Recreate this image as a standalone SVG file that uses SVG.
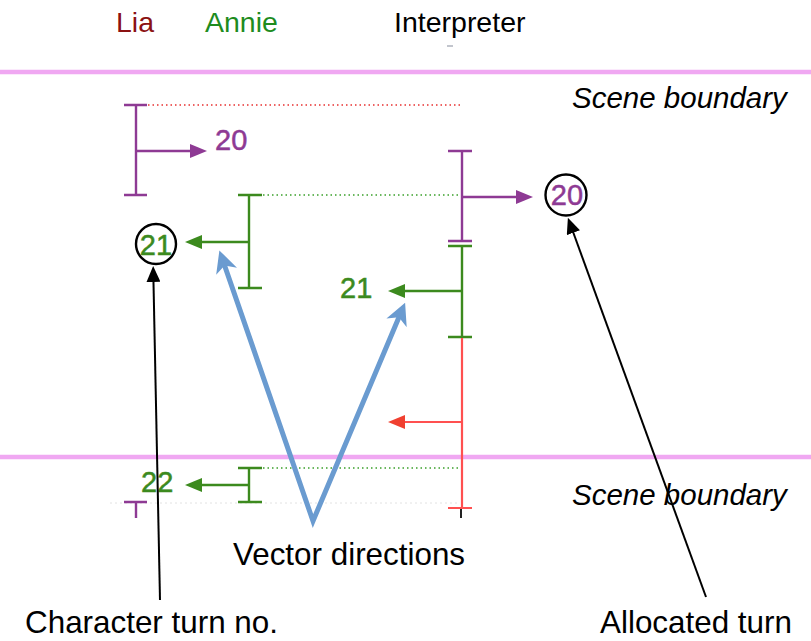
<svg xmlns="http://www.w3.org/2000/svg" width="811" height="641" viewBox="0 0 811 641">
  <style>
    text { font-family: "Liberation Sans", Arial, sans-serif; }
    .hdr { font-size: 28.5px; }
    .scene { font-size: 29.5px; font-style: italic; fill: #000; }
    .label { font-size: 31.4px; fill: #000; }
    .num { font-size: 29px; stroke-width: 0.5; }
    .purple { stroke: #8e3a94; stroke-width: 2.4; fill: none; }
    .green { stroke: #3c8a1e; stroke-width: 2.4; fill: none; }
    .red { stroke: #ff5050; stroke-width: 2.2; fill: none; }
    .boundary { stroke: #f0a8f2; stroke-width: 4.5; }
    .dotRed { stroke: #e83030; stroke-width: 1.5; stroke-dasharray: 1.5 3; }
    .dotGreen { stroke: #3aa02a; stroke-width: 1.5; stroke-dasharray: 1.5 3; }
    .vec { stroke: #6a9bd0; stroke-width: 5; fill: none; stroke-linejoin: miter; }
    .callout { stroke: #000; stroke-width: 2; fill: none; }
    .ring { stroke: #000; stroke-width: 2.4; fill: none; }
  </style>
  <defs>
    <marker id="headPurple" viewBox="0 0 17 14" markerUnits="userSpaceOnUse" markerWidth="17" markerHeight="14" refX="4" refY="7" orient="auto">
      <path d="M0,0 L17,7 L0,14 z" fill="#8e3a94"/>
    </marker>
    <marker id="headGreen" viewBox="0 0 17 14" markerUnits="userSpaceOnUse" markerWidth="17" markerHeight="14" refX="4" refY="7" orient="auto">
      <path d="M0,0 L17,7 L0,14 z" fill="#3c8a1e"/>
    </marker>
    <marker id="headRed" viewBox="0 0 17 14" markerUnits="userSpaceOnUse" markerWidth="17" markerHeight="14" refX="4" refY="7" orient="auto">
      <path d="M0,0 L17,7 L0,14 z" fill="#f04030"/>
    </marker>
    <marker id="headBlack" viewBox="0 0 16 14" markerUnits="userSpaceOnUse" markerWidth="16" markerHeight="14" refX="4" refY="7" orient="auto">
      <path d="M0,0 L16,7 L0,14 z" fill="#000"/>
    </marker>
    <marker id="headBlue" viewBox="0 0 22 22" markerUnits="userSpaceOnUse" markerWidth="22" markerHeight="22" refX="14" refY="11" orient="auto-start-reverse">
      <path d="M0,0 L22,11 L0,22 L6,11 z" fill="#6a9bd0"/>
    </marker>
  </defs>

  <!-- column headings -->
  <g id="headings">
    <text class="hdr" x="116" y="32" fill="#8b1212">Lia</text>
    <text class="hdr" x="205" y="32" fill="#1e8c1e">Annie</text>
    <text class="hdr" x="394" y="32" fill="#000">Interpreter</text>
    <line x1="447" y1="46" x2="453" y2="46" stroke="#7a8090" stroke-width="1.5" opacity="0.6"/>
  </g>

  <!-- scene boundaries -->
  <g id="boundaries">
    <line class="boundary" x1="0" y1="72" x2="811" y2="72"/>
    <line class="boundary" x1="0" y1="457" x2="811" y2="457"/>
    <text class="scene" x="572" y="108">Scene boundary</text>
    <text class="scene" x="572" y="505">Scene boundary</text>
  </g>

  <!-- Lia: turn 20 -->
  <g id="lia-turn-20">
    <line class="dotRed" x1="148" y1="105" x2="460" y2="105"/>
    <path class="purple" d="M124,105 H147 M136,105 V195 M124,195 H147"/>
    <path class="purple" d="M136,151 H194" marker-end="url(#headPurple)"/>
    <text class="num" x="215" y="150" fill="#8e3a94" stroke="#8e3a94">20</text>
  </g>

  <!-- Annie: turn 21 -->
  <g id="annie-turn-21">
    <line class="dotGreen" x1="263" y1="195" x2="460" y2="195"/>
    <path class="green" d="M238,195 H262 M249,195 V288 M238,288 H262"/>
    <path class="green" d="M249,242 H198" marker-end="url(#headGreen)"/>
    <circle class="ring" cx="156" cy="244" r="20"/>
    <text class="num" x="156" y="255" text-anchor="middle" fill="#3c8a1e" stroke="#3c8a1e">21</text>
  </g>

  <!-- Interpreter: turn 20 -->
  <g id="interp-turn-20">
    <path class="purple" d="M448,151 H472 M462,151 V241 M448,241 H472"/>
    <path class="purple" d="M462,197 H520" marker-end="url(#headPurple)"/>
    <circle class="ring" cx="566" cy="195" r="20.5"/>
    <text class="num" x="567" y="205" text-anchor="middle" font-size="27" fill="#8e3a94" stroke="#8e3a94">20</text>
  </g>

  <!-- Interpreter: turn 21 -->
  <g id="interp-turn-21">
    <path class="green" d="M448,246 H472 M462,246 V337 M448,337 H472"/>
    <path class="green" d="M462,291 H401" marker-end="url(#headGreen)"/>
    <text class="num" x="340" y="298" font-size="26" fill="#3c8a1e" stroke="#3c8a1e">21</text>
  </g>

  <!-- Interpreter: next turn -->
  <g id="interp-turn-next">
    <path class="red" d="M462,338 V508 M448,508 H472"/>
    <path class="red" d="M462,422 H401" marker-end="url(#headRed)"/>
    <line x1="461" y1="509" x2="461" y2="518" stroke="#222" stroke-width="2"/>
  </g>

  <!-- Annie: turn 22 -->
  <g id="annie-turn-22">
    <line class="dotGreen" x1="263" y1="468" x2="460" y2="468"/>
    <line x1="110" y1="503" x2="460" y2="503" stroke="#c8c8c8" stroke-width="1" stroke-dasharray="2 3" opacity="0.5"/>
    <path class="green" d="M238,468 H262 M249,468 V502 M238,502 H262"/>
    <path class="green" d="M249,485 H198" marker-end="url(#headGreen)"/>
    <text class="num" x="141" y="492" font-size="28" fill="#3c8a1e" stroke="#3c8a1e">22</text>
  </g>

  <!-- Lia: next turn -->
  <g id="lia-turn-next">
    <path class="purple" d="M124,502 H147 M136,502 V518"/>
  </g>

  <!-- annotation arrows -->
  <g id="connectors">
    <path class="vec" d="M222,258 L313,521 L402,310" marker-start="url(#headBlue)" marker-end="url(#headBlue)"/>
    <line class="callout" x1="160" y1="600" x2="153.4" y2="278" marker-end="url(#headBlack)"/>
    <line class="callout" x1="706" y1="597" x2="572" y2="229" marker-end="url(#headBlack)"/>
  </g>

  <!-- annotation labels -->
  <g id="labels">
    <text class="label" x="233" y="565">Vector directions</text>
    <text class="label" x="25" y="633">Character turn no.</text>
    <text class="label" x="600" y="633">Allocated turn</text>
  </g>
</svg>
